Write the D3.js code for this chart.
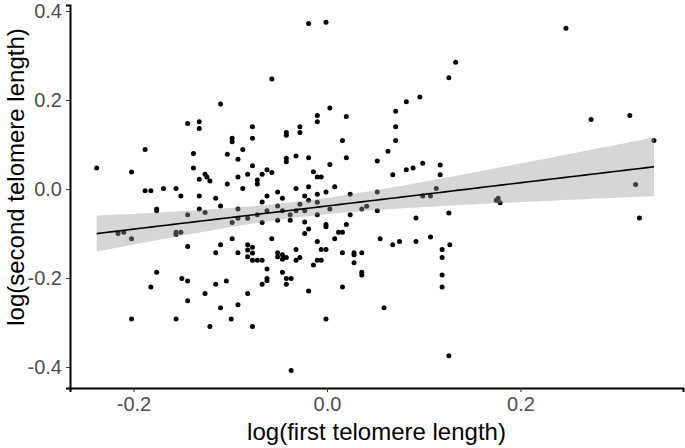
<!DOCTYPE html>
<html>
<head>
<meta charset="utf-8">
<script src="https://cdn.jsdelivr.net/npm/d3@7"></script>
<style>
  body { margin: 0; background: #fff; }
  svg { font-family: "Liberation Sans", Arial, sans-serif; }
</style>
</head>
<body>
<svg id="chart"></svg>
<script>
// log(first telomere length)
const firstLen = [
  -0.057, -0.110, -0.144, -0.132, -0.132, -0.077, -0.019, -0.001, 0.133, 0.126,
  0.096, 0.082, 0.071, 0.071, 0.003, -0.010, -0.010, 0.020, -0.028, -0.028,
  -0.042, 0.247, 0.273, 0.313, -0.098, -0.098, -0.077, -0.188, -0.138, -0.103,
  -0.087, -0.092, -0.238, -0.202, -0.138, -0.077, -0.126, -0.124, -0.121, -0.132,
  -0.092, -0.082, -0.072, -0.072, -0.067, -0.062, -0.057, -0.103, -0.087, -0.188,
  -0.182, -0.169, -0.156, -0.151, -0.132, -0.115, -0.067, -0.062, -0.051, -0.110,
  -0.176, -0.176, -0.132, -0.126, -0.144, -0.092, -0.051, -0.062, -0.072, -0.082,
  -0.092, -0.098, -0.067, -0.216, -0.210, -0.202, -0.156, -0.156, -0.151, -0.098,
  -0.057, -0.144, -0.110, -0.115, -0.092, -0.082, -0.077, -0.082, -0.077, -0.082,
  -0.077, -0.072, -0.067, -0.051, -0.051, -0.042, 0.016, 0.071, -0.042, -0.042,
  -0.032, -0.019, 0.020, 0.063, 0.052, 0.003, -0.014, -0.010, -0.006, 0.068,
  0.082, 0.089, 0.099, 0.117, 0.117, -0.046, -0.032, -0.019, 0.008, -0.023,
  -0.019, -0.010, -0.001, -0.010, 0.024, -0.028, -0.046, -0.032, -0.023, -0.038,
  -0.010, 0.003, -0.051, -0.038, -0.023, 0.024, 0.036, 0.041, 0.052, 0.052,
  0.099, 0.107, 0.113, 0.092, 0.126, -0.001, -0.001, -0.019, -0.023, 0.020,
  0.016, 0.012, 0.008, -0.010, -0.006, -0.001, -0.032, 0.055, 0.068, 0.075,
  0.092, 0.107, 0.127, 0.119, 0.119, 0.016, 0.028, 0.028, 0.036, -0.046,
  -0.046, -0.042, -0.032, -0.028, -0.010, -0.006, -0.014, 0.028, -0.046, -0.042,
  -0.037, -0.042, -0.019, 0.016, 0.036, 0.036, 0.059, -0.001, 0.119, 0.119,
  0.126, -0.037, -0.176, -0.182, -0.150, -0.144, -0.144, -0.202, -0.156, -0.126,
  -0.115, -0.104, -0.110, -0.121, -0.099, -0.092, -0.082, -0.077, -0.067, -0.062,
  -0.062, -0.062, 0.338, 0.319, 0.323, 0.177, 0.179, 0.175
];
// log(second telomere length)
const secondLen = [
  0.247, 0.191, 0.147, 0.151, 0.136, 0.140, 0.372, 0.375, 0.285, 0.250,
  0.207, 0.196, 0.175, 0.140, 0.182, 0.165, 0.151, 0.163, 0.140, 0.127,
  0.127, 0.361, 0.156, 0.165, 0.114, 0.106, 0.114, 0.089, 0.080, 0.078,
  0.089, 0.067, 0.047, 0.038, 0.047, 0.052, 0.033, 0.027, 0.018, 0.022,
  0.027, 0.033, 0.020, 0.011, 0.033, 0.043, 0.037, 0.011, 0.001, -0.004,
  -0.004, 0.001, 0.001, -0.016, -0.016, -0.021, -0.029, -0.016, -0.007, -0.038,
  -0.045, -0.049, -0.045, -0.053, -0.058, -0.045, -0.038, -0.049, -0.058, -0.066,
  -0.066, -0.075, -0.075, -0.100, -0.097, -0.112, -0.097, -0.102, -0.097, -0.112,
  -0.112, -0.129, -0.125, -0.143, -0.143, -0.125, -0.131, -0.137, -0.144, -0.152,
  -0.160, -0.160, -0.160, -0.143, -0.152, 0.121, 0.109, 0.109, 0.069, 0.061,
  0.074, 0.070, 0.070, 0.085, 0.063, 0.055, 0.039, 0.027, 0.027, 0.032,
  0.043, 0.047, 0.058, 0.054, 0.032, -0.021, 0.001, 0.005, 0.005, -0.016,
  -0.025, -0.012, -0.007, -0.030, -0.012, -0.034, -0.049, -0.049, -0.049, -0.058,
  -0.058, -0.045, -0.070, -0.070, -0.074, -0.058, -0.045, -0.039, -0.007, -0.049,
  -0.016, -0.016, 0.001, -0.065, -0.054, -0.080, -0.085, -0.090, -0.100, -0.080,
  -0.097, -0.097, -0.112, -0.118, -0.136, -0.136, -0.136, -0.112, -0.125, -0.118,
  -0.118, -0.108, -0.125, -0.136, -0.154, -0.143, -0.143, -0.148, -0.143, -0.148,
  -0.158, -0.154, -0.160, -0.154, -0.160, -0.160, -0.171, -0.166, -0.187, -0.201,
  -0.201, -0.214, -0.229, -0.220, -0.187, -0.193, -0.267, -0.292, -0.193, -0.220,
  -0.375, -0.408, -0.187, -0.220, -0.201, -0.207, -0.251, -0.292, -0.292, -0.235,
  -0.214, -0.207, -0.267, -0.309, -0.292, -0.260, -0.235, -0.309, -0.214, -0.180,
  -0.201, -0.206, 0.109, 0.010, -0.065, -0.021, -0.031, -0.025
];
const xTicks = [-0.2, 0.0, 0.2];
const yTicks = [-0.4, -0.2, 0.0, 0.2, 0.4];

const width = 685, height = 448;
const margin = {top: 5, right: 2, bottom: 60, left: 70};

const svg = d3.select("#chart").attr("width", width).attr("height", height);

const points = firstLen.map((x, i) => ({x: x, y: secondLen[i]}));

const xScale = d3.scaleLinear().domain([-0.2656, 0.368]).range([margin.left, width - margin.right]);
const yScale = d3.scaleLinear().domain([-0.4472, 0.4135]).range([height - margin.bottom, margin.top]);

// points first, the confidence band is drawn over them (like ggplot)
svg.append("g").selectAll("circle").data(points).join("circle")
  .attr("cx", d => xScale(d.x))
  .attr("cy", d => yScale(d.y))
  .attr("r", 2.5)
  .attr("fill", "#000");

// linear fit + 95% CI
const n = points.length;
const xbar = d3.mean(points, d => d.x), ybar = d3.mean(points, d => d.y);
const sxx = d3.sum(points, d => (d.x - xbar) ** 2);
const sxy = d3.sum(points, d => (d.x - xbar) * (d.y - ybar));
const slope = sxy / sxx, icpt = ybar - slope * xbar;
const s = Math.sqrt(d3.sum(points, d => (d.y - icpt - slope * d.x) ** 2) / (n - 2));
const tq = 1.971;
const [xmin, xmax] = d3.extent(firstLen);
const fit = d3.range(81).map(i => {
  const x = xmin + (xmax - xmin) * i / 80;
  const y = icpt + slope * x;
  const se = s * Math.sqrt(1 / n + (x - xbar) ** 2 / sxx);
  return {x, y, lo: y - tq * se, hi: y + tq * se};
});

svg.append("path").datum(fit)
  .attr("fill", "#999999").attr("fill-opacity", 0.4)
  .attr("d", d3.area().x(d => xScale(d.x)).y0(d => yScale(d.lo)).y1(d => yScale(d.hi)));

svg.append("path").datum(fit)
  .attr("fill", "none").attr("stroke", "#000").attr("stroke-width", 1.6)
  .attr("d", d3.line().x(d => xScale(d.x)).y(d => yScale(d.y)));

// axes
const xAxis = svg.append("g")
  .attr("transform", `translate(0,${height - margin.bottom})`)
  .call(d3.axisBottom(xScale).tickValues(xTicks).tickFormat(d3.format(".1f")).tickSize(4).tickPadding(5));
const yAxis = svg.append("g")
  .attr("transform", `translate(${margin.left},0)`)
  .call(d3.axisLeft(yScale).tickValues(yTicks).tickFormat(d3.format(".1f")).tickSize(4).tickPadding(4));

[xAxis, yAxis].forEach(ax => {
  ax.select(".domain").attr("stroke", "#000").attr("stroke-width", 2);
  ax.selectAll(".tick line").attr("stroke", "#333");
  ax.selectAll(".tick text").attr("fill", "#4d4d4d").style("font-size", "20px");
});
xAxis.selectAll(".tick text").text(d => d3.format(".1f")(d).replace("−", "-"));
yAxis.selectAll(".tick text").text(d => d3.format(".1f")(d).replace("−", "-"));

// titles
svg.append("text")
  .attr("x", (margin.left + width - margin.right) / 2)
  .attr("y", 440)
  .attr("text-anchor", "middle")
  .style("font-size", "24px")
  .text("log(first telomere length)");

svg.append("text")
  .attr("transform", "translate(24,177) rotate(-90)")
  .attr("text-anchor", "middle")
  .style("font-size", "24px")
  .text("log(second telomere length)");
</script>
</body>
</html>
